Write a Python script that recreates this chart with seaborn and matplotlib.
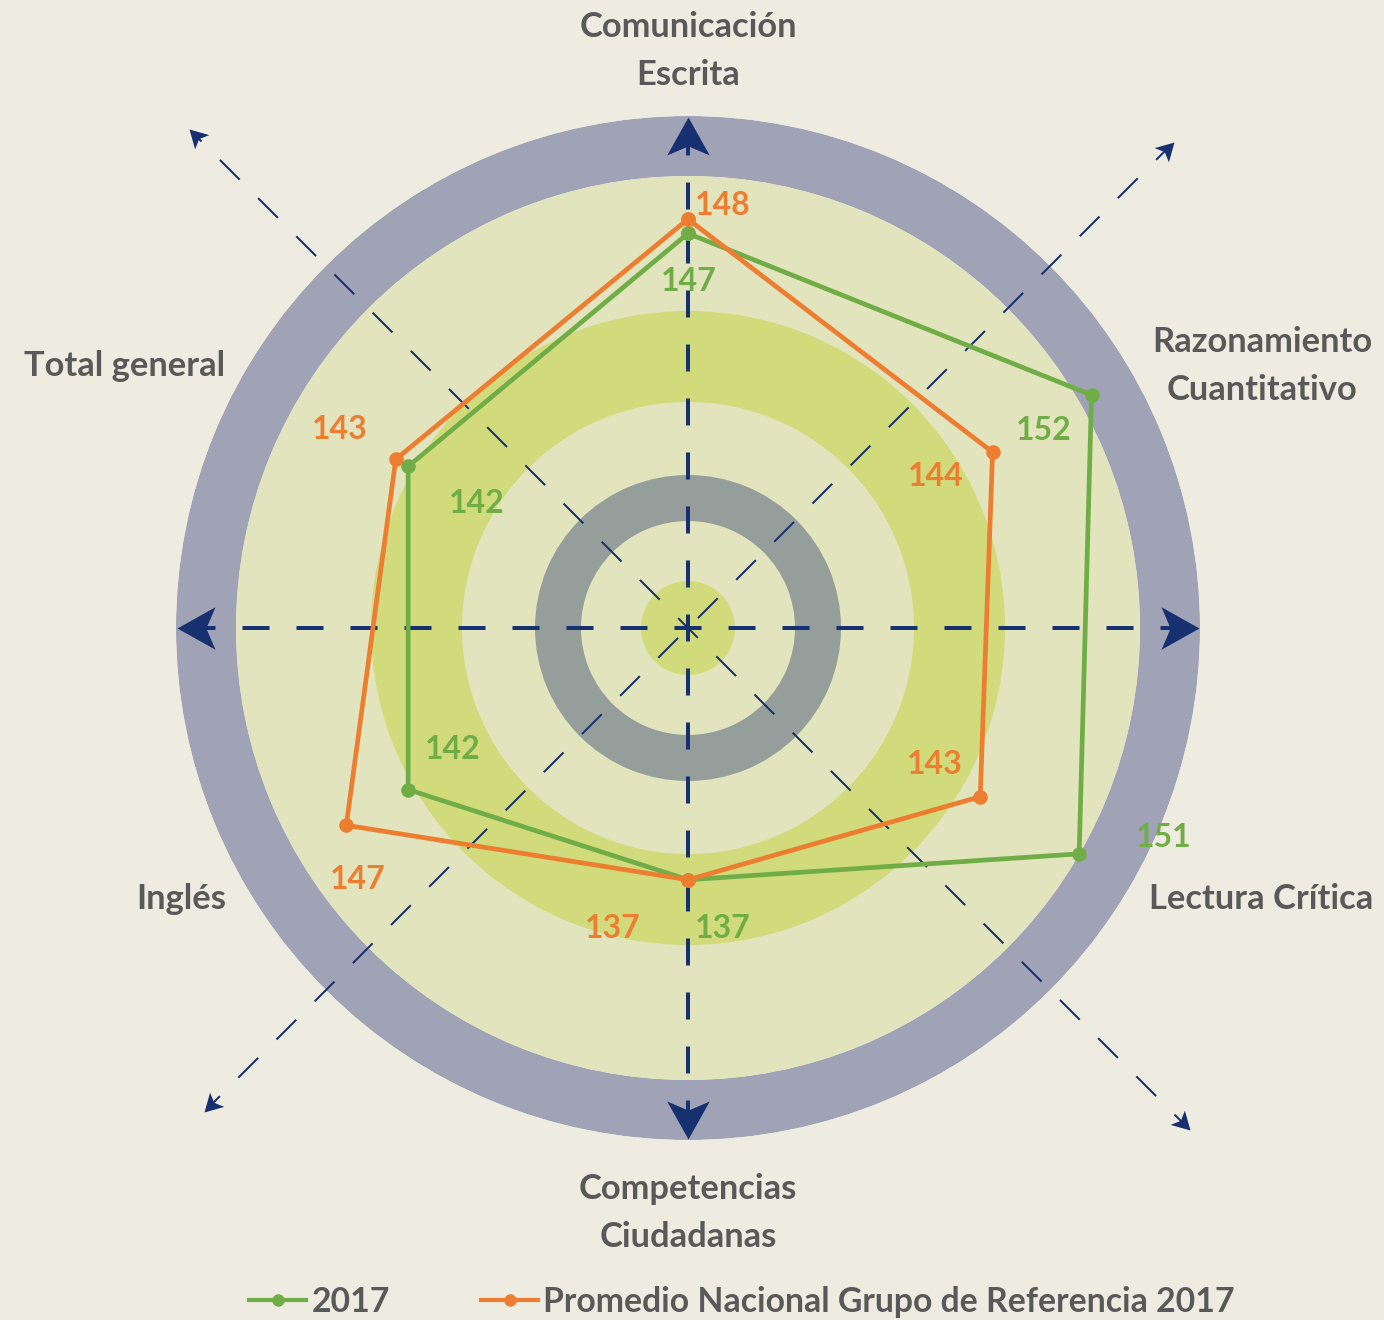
import numpy as np
import pandas as pd
import matplotlib
matplotlib.use("Agg")
import matplotlib.pyplot as plt
import seaborn as sns
from matplotlib.path import Path
from matplotlib.markers import MarkerStyle
from matplotlib.transforms import Affine2D
from matplotlib.lines import Line2D

# ---------------- data ----------------
categories = ["Comunicación\nEscrita", "Razonamiento\nCuantitativo", "Lectura Crítica",
              "Competencias\nCiudadanas", "Inglés", "Total general"]
valores_2017 = [147, 152, 151, 137, 142, 142]
valores_promedio = [148, 144, 143, 137, 147, 143]
series = ["2017", "Promedio Nacional Grupo de Referencia 2017"]

# ---------------- style ----------------
BG = "#EEECE1"
RING_BLUE = "#9FA3B5"
LIGHT_GREEN = "#E1E4BC"
DARK_GREEN = "#D1DB7B"
GRAY = "#959E9A"
CENTER_GREEN = "#D1DB7B"
NAVY = "#17306F"
GREEN = "#70AD47"
ORANGE = "#ED7D31"
TEXT = "#595959"
FONT = ["Lato", "DejaVu Sans"]

plt.rcParams["lines.scale_dashes"] = False
plt.rcParams["font.family"] = FONT

W, H = 1384, 1320
CX, CY = 688, 628          # centre, pixels from top-left
R_PX = 512                 # outer ring radius in pixels
K = 14.28                  # pixels per score unit
V0 = 119.37                # score at the centre


def px2r(p):
    return V0 + p / K


fig = plt.figure(figsize=(W / 100, H / 100), dpi=100, facecolor=BG)
ax = fig.add_axes([(CX - R_PX) / W, (H - CY - R_PX) / H, 2 * R_PX / W, 2 * R_PX / H],
                  projection="polar")
ax.set_theta_offset(np.pi / 2)
ax.set_theta_direction(-1)
ax.set_axis_off()

# decorative rings (inner px, outer px, colour)
rings = [(452, 512, RING_BLUE), (0, 452, LIGHT_GREEN), (226, 317, DARK_GREEN),
         (107, 153, GRAY), (0, 47, CENTER_GREEN)]
for r_in, r_out, col in rings:
    ax.bar(0, px2r(r_out) - px2r(r_in), width=2 * np.pi, bottom=px2r(r_in),
           color=col, linewidth=0, align="edge", zorder=1)

# arrow head marker (tip at origin)
head = Path([(0, 0), (-1, 0.56), (-0.76, 0), (-1, -0.56), (0, 0)],
            [Path.MOVETO, Path.LINETO, Path.LINETO, Path.LINETO, Path.CLOSEPOLY])

def arrow_marker(theta_deg):
    return MarkerStyle(head, transform=Affine2D().rotate_deg(90 - theta_deg))

PX = 0.72  # points per pixel
# main axes (thick dashes, big arrows)
for th in [0, 90, 180, 270]:
    t = np.deg2rad(th)
    ax.plot([t, t], [V0, px2r(500)], color=NAVY, lw=4 * PX,
            linestyle=(13.5 * PX, (27 * PX, 27 * PX)), dash_capstyle="butt",
            clip_on=False, zorder=2)
    ax.plot([t], [px2r(511)], linestyle="none", marker=arrow_marker(th),
            markersize=2 * 38 * PX, color=NAVY, markeredgewidth=0, clip_on=False, zorder=2)

# diagonal axes (thin dashes, small arrows)
diag = [(45, 688, 27 + 13), (135, 710, 14), (225, 684, 27 + 13), (315, 706, 14)]
for th, tip, off in diag:
    t = np.deg2rad(th)
    ax.plot([t, t], [V0, px2r(tip - 10)], color=NAVY, lw=2 * PX,
            linestyle=(off * PX, (28 * PX, 26 * PX)), dash_capstyle="butt",
            clip_on=False, zorder=2)
    ax.plot([t], [px2r(tip)], linestyle="none", marker=arrow_marker(th),
            markersize=2 * 18 * PX, color=NAVY, markeredgewidth=0, clip_on=False, zorder=2)

# data
rows = []
n = len(categories)
for name, vals in zip(series, [valores_2017, valores_promedio]):
    for i in range(n + 1):
        rows.append({"serie": name, "theta": 2 * np.pi * i / n, "valor": vals[i % n]})
df = pd.DataFrame(rows)

sns.lineplot(data=df, x="theta", y="valor", hue="serie", palette=[GREEN, ORANGE],
             sort=False, estimator=None, marker="o", markersize=10.5, markeredgewidth=0,
             linewidth=3.4, legend=False, ax=ax, zorder=5)
for ln in ax.lines[-2:]:
    ln.set_clip_on(False)

ax.set_ylim(V0, px2r(R_PX))
ax.set_axis_off()

# value labels (offset in pixels from the point)
off_2017 = [(1, -48), (-48, -35), (85, 16), (35, -49), (45, 40), (69, -37)]
off_prom = [(35, 14), (-57, -24), (-45, 32), (-75, -49), (11, -54), (-56, 30)]
for vals, offs, col in [(valores_2017, off_2017, GREEN), (valores_promedio, off_prom, ORANGE)]:
    for i, (v, o) in enumerate(zip(vals, offs)):
        ax.annotate(f"{v}", xy=(2 * np.pi * i / n, v), xytext=o, textcoords="offset pixels",
                    ha="center", va="center", color=col, fontsize=23, fontweight="bold",
                    annotation_clip=False, zorder=6)

# category labels (centre positions in pixels)
cat_pos = [(688, 51), (1262, 366), (1261, 899), (688, 1213), (181, 899), (125, 366)]
for lab, (x, y) in zip(categories, cat_pos):
    fig.text(x / W, 1 - y / H, lab, ha="center", va="center", multialignment="center",
             color=TEXT, fontsize=24.8, fontweight="bold", linespacing=1.62)

# legend
handles = [Line2D([], [], color=c, lw=3, marker="o", markersize=9, markeredgewidth=0)
           for c in [GREEN, ORANGE]]
fig.legend(handles, series, loc="center", bbox_to_anchor=(742 / W, 1 - 1302 / H),
           ncol=2, frameon=False, handlelength=1.7, handletextpad=0.15, columnspacing=2.7,
           borderpad=0, prop={"family": FONT, "size": 24.3, "weight": "bold"},
           labelcolor=TEXT)

fig.savefig("out.png", dpi=100, facecolor=BG)
